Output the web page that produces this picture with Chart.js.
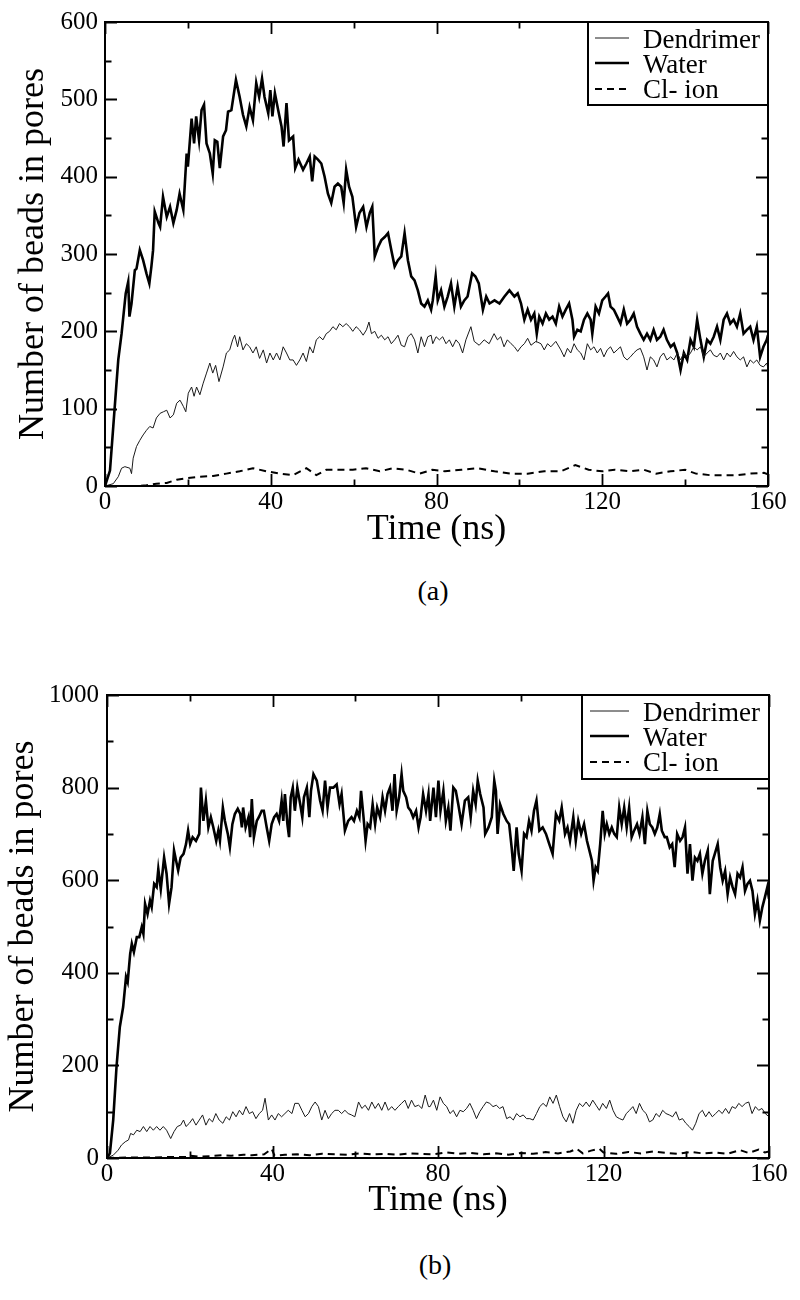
<!DOCTYPE html>
<html><head><meta charset="utf-8">
<script src="https://cdn.jsdelivr.net/npm/chart.js@4.4.0/dist/chart.umd.min.js"></script>
<style>
html,body{margin:0;padding:0;background:#fff;width:800px;height:1300px;overflow:hidden;}
.wrap{position:absolute;left:0;width:800px;height:560px;}
.wrap canvas{display:block;}
.cap{position:absolute;width:200px;text-align:center;font-family:"Liberation Serif","Times New Roman",serif;font-size:28px;line-height:28px;color:#000;}
</style></head><body>
<div class="wrap" style="top:0"><canvas id="ca" width="800" height="560"></canvas></div>
<div class="cap" style="left:333px;top:577px">(a)</div>
<div class="wrap" style="top:672px"><canvas id="cb" width="800" height="560"></canvas></div>
<div class="cap" style="left:335px;top:1251px">(b)</div>
<script>
// ---------- DATA ----------
const seriesLabels = ['Dendrimer', 'Water', 'Cl- ion'];
const xTitle = 'Time (ns)';
const yTitle = 'Number of beads in pores';
const panelLabels = ['(a)', '(b)'];

// Panel (a)
const tWaterA = [0,1.2,2,3.2,4,5,5.6,5.9,6.4,7.2,7.6,8.4,9.2,10,10.7,11.2,11.6,12,12.9,13.3,14,14.9,15.7,16.5,17.3,18,18.9,19.7,20,20.9,21.5,22,22.7,23.3,23.9,24.5,25.3,26,26.5,27.1,27.7,28.5,29.2,29.7,30.5,31.6,32.5,33.3,34.1,34.9,35.7,36.5,37.2,37.9,38.5,39.4,39.9,40.4,41,41.8,42.6,43.1,43.8,44.4,45.4,45.9,46.7,47.8,48.6,49.4,50,50.6,51.4,52.2,53,53.8,54.6,55.4,56.2,57,57.6,58.2,58.9,59.7,60.6,61.4,62.3,63.1,63.9,64.5,65.1,65.9,66.7,67.5,68.3,69.1,69.9,70.7,71.5,72.3,73.1,73.9,74.7,75.5,76.3,77.1,77.9,78.7,
  79.1,79.8,80.3,81.1,81.9,82.7,83.5,84.3,85.1,85.9,86.7,87.5,88.6,89.4,90.2,91.2,92,92.8,94,95.2,96.4,97.6,98.8,99.6,100.4,101.2,102,102.8,103.6,104.2,104.8,105.6,106.4,107.2,108,108.8,109.6,110.4,111.2,112,112.8,113.2,114,114.8,115.6,116.4,117.2,117.6,118.4,119.2,120,120.8,121.4,122,122.8,123.6,124.4,125.2,126,126.8,127.6,128.4,129.2,130,130.8,131.6,132.4,133.2,134,134.8,135.6,136.5,137.3,138.1,138.9,139.7,140.5,141.3,142.1,142.9,143.7,144.5,145.3,146.1,146.9,147.7,148.5,149.3,150.1,150.9,151.7,152.5,153.3,154.1,154.9,155.7,156.5,157.3,158.1,158.9,159.7,160];
const vWaterA = [0,20,77,163,197,249,264,219,236,279,281,305,292,275,262,284,305,355,340,335,374,348,361,340,357,378,357,430,413,475,443,478,447,486,493,443,430,404,447,445,411,452,460,484,486,525,503,480,465,490,473,521,503,527,503,482,512,478,508,486,465,439,495,447,452,411,422,409,417,426,394,426,422,417,400,378,366,387,391,387,366,409,387,374,335,353,361,335,353,361,297,309,318,322,327,305,284,292,297,327,292,271,266,253,236,232,240,228,
  240,271,240,253,232,245,262,232,258,232,240,245,275,271,262,228,245,236,240,236,245,253,245,249,236,215,228,215,223,197,219,210,223,215,219,210,232,219,228,236,215,193,202,200,215,223,215,197,232,223,240,245,249,232,228,219,210,228,210,215,223,206,197,189,197,189,202,189,193,202,189,180,184,172,150,172,163,189,180,215,189,167,189,184,193,206,189,215,223,210,215,206,223,197,202,206,189,206,167,180,189,195];

const tDendA = [0,2,3.2,4,4.8,6,6.4,6.8,7.6,8.4,9.2,10,10.8,11.6,12.4,13.3,14.1,14.9,15.7,16.5,17.3,18.1,18.9,19.5,20.1,20.9,21.5,22.1,22.9,23.7,24.5,25.3,26,26.7,27.5,28.5,29.3,30.1,30.8,31.3,32,32.5,33.3,34.1,34.9,35.7,36.5,37.3,38.2,39,39.8,40.6,41.4,42.2,43,43.8,44.6,45.4,46.2,47,47.8,48.6,49.4,50.2,51,51.8,52.6,53.4,54.2,55,55.8,56.6,57.4,58.2,59,59.8,60.6,61.4,62.3,63.1,63.7,64.3,65.1,65.9,66.7,67.5,68.3,69.1,69.9,70.7,71.5,72.3,73.1,73.9,74.7,75.5,76.3,77.1,77.9,78.7,
  79.1,79.9,80.7,81.5,82.3,83.1,83.9,84.7,85.5,86.3,87.1,88.3,89.1,90.3,91.5,92.7,93.9,94.7,95.5,96.3,97.1,98,98.8,99.6,100.4,101.2,102,102.8,104,105.2,106,106.8,107.6,108.8,110,110.8,111.6,112.4,113.2,114,114.8,115.6,116.4,117.2,118,118.8,119.6,120.4,121.2,122,122.8,123.6,124.4,125.2,126,126.8,127.6,128.4,129.2,130,130.8,131.6,132.4,133.2,134,134.8,135.6,136.5,137.3,138.1,138.9,139.7,140.5,141.3,142.1,142.9,143.7,144.5,145.3,146.1,146.9,147.7,148.5,149.3,150.1,150.9,151.7,152.5,153.3,154.1,154.9,155.7,156.5,157.3,158.1,158.9,159.7,160];
const vDendA = [0,3,12,23,25,23,16,36,51,59,66,72,77,75,88,94,96,98,88,92,107,111,103,96,120,128,116,128,118,133,146,159,146,156,135,154,172,176,189,195,180,193,176,184,180,172,180,165,176,159,172,163,172,163,180,172,163,163,156,163,172,161,180,172,189,193,189,197,200,206,202,210,206,210,206,200,206,202,195,202,212,197,200,191,195,189,193,184,189,195,182,180,193,197,189,172,193,180,193,195,
  184,193,189,193,184,189,180,189,184,172,189,206,187,182,189,184,197,189,193,180,189,184,180,174,180,184,191,182,187,184,176,184,180,187,176,167,178,172,184,176,172,163,184,176,180,172,178,167,176,180,172,176,180,167,163,167,172,176,178,167,150,167,163,154,167,172,163,167,163,172,163,172,167,172,180,176,180,167,172,176,169,167,172,163,172,167,174,167,163,167,154,163,159,163,156,154,159,152];

const tClA = [0,4,8,10,12.4,14.9,17.3,19.7,22.9,26.1,29.3,32.5,35.7,39,42.2,45.4,48.6,51,53.4,56.6,59.8,63,66.3,69.5,72.7,75.9,79,82,86,90,94,98,102,106,110,113.5,116.7,120,123,126.5,130,133,136.5,140,142.6,146,149,152.5,155.7,159,160];
const vClA = [0,0,0,1,3,4,8,10,12,13,16,19,23,19,16,14,23,14,21,21,21,23,19,23,21,16,21,19,21,23,19,16,16,19,19,27,21,19,21,19,21,16,19,21,16,14,14,14,16,17,15];

// Panel (b)
const tWaterB = [0,0.7,1.5,2.3,3.1,3.9,4.6,5,5.6,6,6.5,7.2,7.8,8.4,8.8,9.2,9.8,10.4,10.8,11.4,12,12.4,13,13.8,14.4,15,15.6,16.2,16.7,17.2,17.8,18.5,19.1,19.6,20.1,20.7,21.5,22.3,22.7,23.3,23.9,24.5,25.1,25.7,26.4,26.9,27.3,28,28.5,29.2,29.7,30.3,30.9,31.6,32.2,32.6,32.9,33.5,34.2,34.6,35,35.5,36.2,36.7,37.4,37.9,38.6,39.2,39.8,40.4,41,41.6,42.2,42.6,43,43.6,44,44.4,44.9,45.4,46,46.7,47.2,47.6,48.3,48.9,49.3,49.9,50.7,51.5,52.1,52.7,53.3,53.9,54.7,55.5,56.2,56.7,57.5,58.3,59.1,59.7,60.4,61,61.4,62,62.5,63,63.6,64.2,64.8,65.3,66,66.6,67.2,67.8,68.4,69,69.5,70,70.6,71.2,71.6,72.3,72.8,73.4,74,74.7,75.3,75.8,76.4,77.1,77.7,
  78.1,78.9,79.5,80.1,80.6,81.3,81.9,82.5,83,83.7,84.3,84.9,85.7,86.5,87.3,87.9,88.5,89.1,89.6,90.2,91,91.4,92.2,93,93.6,94,94.4,95,95.8,96.6,97.2,97.8,98.3,99,99.5,100.2,100.8,101.4,102,102.6,103.2,103.8,104.5,105.3,106.1,106.9,107.7,108.5,109.3,109.9,110.7,111.3,111.9,112.7,113.3,113.9,114.6,115.3,116,116.6,117.2,117.6,118.1,118.6,119.2,119.8,120.3,120.8,121.4,122,122.6,123.2,123.8,124.4,125,125.6,126.2,126.8,127.4,128.1,128.7,129.4,130,130.6,131.2,131.8,132.4,133,133.6,134.1,134.8,135.3,136,136.6,137.2,137.8,138.5,139.1,139.7,140.3,140.9,141.5,142.1,142.7,143.3,143.9,144.5,145.2,145.7,146.4,146.9,147.6,148.2,148.8,149.4,150,150.6,151.2,151.8,152.4,153,153.6,154.2,154.8,155.4,156,156.6,157.2,157.8,158.4,159,159.6,160];
const vWaterB = [0,10,82,197,283,326,391,380,441,463,445,477,477,499,484,549,527,556,542,592,585,624,581,649,614,549,585,664,642,621,649,657,678,707,678,693,685,700,800,728,772,714,736,714,685,707,685,757,728,700,671,721,743,754,743,714,757,714,736,693,775,693,728,736,750,750,714,685,721,736,743,728,772,728,786,721,693,779,800,750,800,764,736,779,800,736,793,829,815,772,750,815,757,800,800,807,764,786,707,728,736,728,750,736,793,736,685,721,714,764,721,757,736,779,750,786,800,750,829,750,779,829,793,779,757,750,736,750,714,736,786,750,786,
  728,800,736,815,750,793,728,757,707,800,793,764,721,772,779,736,793,764,815,786,757,700,714,736,815,793,700,764,743,728,721,671,620,714,657,620,700,693,728,707,750,772,707,714,700,678,657,743,728,757,700,714,685,736,685,728,700,721,685,664,642,599,628,620,678,750,700,721,700,714,700,693,757,721,757,714,757,693,707,721,700,736,678,750,721,714,700,714,743,707,693,693,671,678,628,700,685,693,714,614,678,599,649,642,657,614,642,664,570,642,657,678,628,599,620,570,606,585,570,614,606,628,577,592,599,577,527,556,513,542,563,585,560];

const tDendB = [0,1.5,2.7,3.5,4.4,5.2,5.7,6.4,7.2,8,8.8,9.6,10.4,11.2,12,12.8,13.6,14.4,15.4,16.2,17,17.8,18.5,19.1,19.9,20.7,21.5,22.3,23.1,23.9,24.7,25.5,26.3,27.1,28,28.8,29.6,30.4,31.2,32,32.8,33.6,34.4,35.2,36,36.8,37.6,38.2,39,39.8,40.6,41.4,42.2,43,43.8,44.7,45.4,46.3,47.1,47.9,48.7,49.5,50.3,51.1,51.9,52.7,53.5,54.3,55.1,55.9,56.7,57.5,58.3,59.1,59.9,60.8,61.6,62.4,63.2,64,64.8,65.6,66.4,67.2,68,68.8,69.6,70.4,71.2,72,72.8,73.6,74.4,75.3,76.1,76.9,77.7,
  78.1,78.9,79.7,80.5,81.3,82.1,82.9,83.7,84.5,85.3,86.1,86.9,87.7,88.5,89.3,90.1,90.9,91.7,92.5,93.3,94.1,94.9,95.7,96.6,97.4,98.2,99,99.8,100.6,101.4,102.2,103,103.8,104.6,105.4,106.2,107,107.8,108.6,109.4,110.2,111,111.8,112.6,113.4,114.2,115,115.8,116.6,117.4,118.2,119,119.8,120.7,121.5,122.3,123.1,123.9,124.7,125.5,126.3,127.1,127.9,128.7,129.5,130.3,131.1,131.9,132.7,133.5,134.3,135.1,135.9,136.7,137.5,138.3,139.1,139.9,140.7,141.5,142.3,143.1,143.9,144.7,145.5,146.3,147.1,147.9,148.7,149.5,150.3,151.1,151.9,152.7,153.5,154.3,155.1,155.9,156.7,157.5,158.3,159.1,160];
const vDendB = [0,6,17,28,35,39,53,50,60,57,68,57,68,60,68,60,68,60,42,57,68,71,82,68,75,85,71,82,93,71,85,78,96,82,75,89,82,100,89,103,93,111,96,100,85,96,103,129,82,93,82,96,89,96,103,96,118,118,103,89,96,111,121,111,82,103,85,96,103,103,96,103,96,93,89,121,107,114,103,121,107,118,103,121,103,111,103,111,118,125,107,125,111,114,107,136,111,
  111,125,103,132,118,111,96,103,89,103,100,107,118,103,85,100,111,121,118,111,114,107,111,85,89,82,96,89,93,85,85,82,96,111,118,111,132,118,136,111,89,78,96,75,103,118,111,121,111,125,114,103,118,107,125,103,89,85,82,96,103,111,96,118,103,96,78,82,96,89,103,96,93,89,100,82,85,75,68,60,75,96,103,89,100,89,96,103,96,107,96,111,107,118,111,118,121,96,111,103,107,96,89];

const tClB = [0,5,10,15,19.5,20,22,25,28,30,33,35,38,39.8,40.5,43,46,49,52,55,58,61,64,67,70,73,76,79,82,85,88,91,94,97,100,103,106,109,112,113.5,115,117,119,120,123,126,129,132,135,138,141,144,147,150,153,155,157.5,159,160];
const vClB = [0,1,1,2,2,5,3,4,6,5,7,6,8,20,5,7,8,6,9,8,7,10,8,9,7,10,9,8,12,9,11,8,10,7,11,9,13,10,14,20,10,16,20,12,9,13,10,14,11,9,13,10,12,9,17,11,18,12,14];

// Axis tick values
const xTickValues = [0, 40, 80, 120, 160];
const yTickValuesA = [0, 100, 200, 300, 400, 500, 600];
const yTickValuesB = [0, 200, 400, 600, 800, 1000];

// ---------- RENDERING ----------
const SERIF = '"Liberation Serif", "Times New Roman", serif';

const framePlugin = {
  id: 'frame',
  afterDraw(chart, args, o) {
    const {ctx, chartArea: a, scales: {x, y}} = chart;
    ctx.save();
    ctx.strokeStyle = '#000';
    ctx.lineWidth = 2;
    ctx.strokeRect(a.left, a.top, a.right - a.left, a.bottom - a.top);
    ctx.lineWidth = 1.8;
    ctx.beginPath();
    for (let v = x.min; v <= x.max + 1e-9; v += o.xMinor) {
      const px = Math.round(x.getPixelForValue(v)) + 0.5;
      const len = (Math.abs(v % o.xMajor) < 1e-9) ? 12 : 6.5;
      ctx.moveTo(px, a.bottom); ctx.lineTo(px, a.bottom - len);
      ctx.moveTo(px, a.top); ctx.lineTo(px, a.top + len);
    }
    for (let v = y.min; v <= y.max + 1e-9; v += o.yMinor) {
      const py = Math.round(y.getPixelForValue(v)) + 0.5;
      const len = (Math.abs(v % o.yMajor) < 1e-9) ? 12 : 6.5;
      ctx.moveTo(a.left, py); ctx.lineTo(a.left + len, py);
      ctx.moveTo(a.right, py); ctx.lineTo(a.right - len, py);
    }
    ctx.stroke();

    // legend box
    const bw = o.legendW, bh = o.legendH;
    const bx = a.right - bw, by = a.top;
    ctx.fillStyle = '#fff';
    ctx.fillRect(bx, by, bw, bh);
    ctx.lineWidth = 2;
    ctx.strokeRect(bx, by, bw, bh);
    ctx.font = '27px ' + SERIF;
    ctx.fillStyle = '#000';
    ctx.textBaseline = 'alphabetic';
    ctx.textAlign = 'left';
    chart.data.datasets.forEach((ds, i) => {
      const base = by + 26 + i * 25;
      const ly = base - 10 + (i === 2 ? 1 : 0);
      ctx.save();
      ctx.strokeStyle = ds.borderColor;
      ctx.lineWidth = ds.borderWidth;
      ctx.setLineDash(ds.borderDash || []);
      ctx.beginPath();
      ctx.moveTo(bx + o.sampleX0, ly);
      ctx.lineTo(bx + o.sampleX1, ly);
      ctx.stroke();
      ctx.restore();
      ctx.fillText(ds.label, bx + o.textX, base);
    });
    ctx.restore();
  }
};

function pts(t, v) { return t.map((tt, i) => ({x: tt, y: v[i]})); }

function makeChart(id, d, c) {
  return new Chart(document.getElementById(id), {
    type: 'line',
    data: {
      datasets: [
        {label: seriesLabels[0], data: pts(d.tD, d.vD), borderColor: '#1a1a1a', borderWidth: 1, pointRadius: 0, tension: 0, fill: false},
        {label: seriesLabels[1], data: pts(d.tW, d.vW), borderColor: '#000', borderWidth: 2.6, pointRadius: 0, tension: 0, fill: false},
        {label: seriesLabels[2], data: pts(d.tC, d.vC), borderColor: '#000', borderWidth: 2, borderDash: [7, 5], pointRadius: 0, tension: 0, fill: false}
      ]
    },
    options: {
      responsive: false,
      animation: false,
      events: [],
      layout: {padding: {top: 22, right: c.padRight, left: 0, bottom: 0}},
      plugins: {
        legend: {display: false},
        tooltip: {enabled: false},
        frame: c.frame
      },
      scales: {
        x: {
          type: 'linear', min: 0, max: 160,
          afterBuildTicks: s => { s.ticks = xTickValues.map(v => ({value: v})); },
          ticks: {font: {family: SERIF, size: 25}, color: '#000', padding: 1, maxRotation: 0, autoSkip: false, callback: v => String(v)},
          grid: {display: false, drawTicks: false},
          border: {display: false},
          title: {display: true, text: xTitle, font: {family: SERIF, size: 36}, color: '#000', padding: {top: 0, bottom: c.xTitlePad}},
          afterFit: s => { s.height = 74; }
        },
        y: {
          type: 'linear', min: 0, max: c.yMax,
          afterBuildTicks: s => { s.ticks = c.yTicks.map(v => ({value: v})); },
          ticks: {font: {family: SERIF, size: 25}, color: '#000', padding: c.yPad, autoSkip: false, callback: v => String(v)},
          grid: {display: false, drawTicks: false},
          border: {display: false},
          title: {display: true, text: yTitle, font: {family: SERIF, size: 36}, color: '#000', padding: {top: c.yTitlePad, bottom: 0}},
          afterFit: s => { s.width = c.yWidth; }
        }
      }
    },
    plugins: [framePlugin]
  });
}

makeChart('ca', {tW: tWaterA, vW: vWaterA, tD: tDendA, vD: vDendA, tC: tClA, vC: vClA}, {
  padRight: 32, yWidth: 105, yMax: 600, yTicks: yTickValuesA, yPad: 7, xTitlePad: 9, yTitlePad: 12,
  frame: {xMajor: 40, xMinor: 20, yMajor: 100, yMinor: 50, legendW: 180, legendH: 83, sampleX0: 7, sampleX1: 41, textX: 55}
});
makeChart('cb', {tW: tWaterB, vW: vWaterB, tD: tDendB, vD: vDendB, tC: tClB, vC: vClB}, {
  padRight: 31, yWidth: 107, yMax: 1000, yTicks: yTickValuesB, yPad: 8, xTitlePad: 10, yTitlePad: 1.5,
  frame: {xMajor: 40, xMinor: 20, yMajor: 200, yMinor: 100, legendW: 187, legendH: 84, sampleX0: 8, sampleX1: 47, textX: 61}
});
document.querySelectorAll('.cap')[0].textContent = panelLabels[0];
document.querySelectorAll('.cap')[1].textContent = panelLabels[1];
</script>
</body></html>
